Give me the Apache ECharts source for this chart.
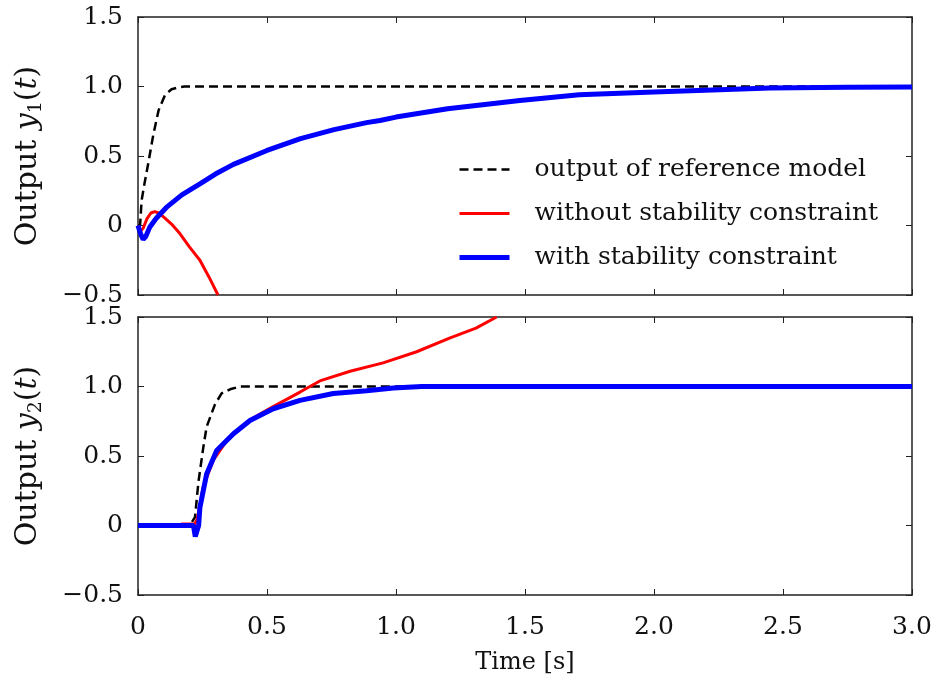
<!DOCTYPE html>
<html>
<head>
<meta charset="utf-8">
<script src="https://cdn.jsdelivr.net/npm/echarts@6/dist/echarts.min.js"></script>
<style>
  html, body { margin: 0; padding: 0; background: #fff; }
  #chart { width: 936px; height: 687px; }
</style>
</head>
<body>
<div id="chart"></div>
<script>
// tick labels
const xTickLabels = ['0', '0.5', '1.0', '1.5', '2.0', '2.5', '3.0']
const yTickLabels = ['\u22120.5', '0', '0.5', '1.0', '1.5']
const seriesNames = ['output of reference model', 'without stability constraint', 'with stability constraint']

// output y1(t)
const tRef1 = [0, 0.008, 0.014, 0.025, 0.04, 0.06, 0.08, 0.105, 0.13, 0.15, 0.18, 0.22, 3.0]
const yRef1 = [0, 0.0, 0.18, 0.3, 0.45, 0.66, 0.83, 0.94, 0.98, 0.99, 1.0, 1.0, 1.0]
const tRed1 = [0, 0.01, 0.02, 0.035, 0.05, 0.065, 0.08, 0.1, 0.13, 0.163, 0.2, 0.24, 0.275, 0.31]
const yRed1 = [0, -0.04, -0.02, 0.05, 0.09, 0.1, 0.09, 0.06, 0.01, -0.06, -0.156, -0.25, -0.37, -0.5]
const tBlue1 = [0, 0.01, 0.02, 0.03, 0.046, 0.07, 0.11, 0.17, 0.24, 0.3, 0.37, 0.5, 0.63, 0.76, 0.886, 0.938, 1.0, 1.2, 1.48, 1.71, 2.0, 2.31, 2.45, 2.75, 3.0]
const yBlue1 = [0, -0.06, -0.1, -0.08, -0.01, 0.05, 0.13, 0.22, 0.3, 0.37, 0.44, 0.54, 0.625, 0.69, 0.74, 0.755, 0.78, 0.84, 0.9, 0.94, 0.96, 0.98, 0.99, 0.995, 0.997]

// output y2(t)
const tRef2 = [0, 0.2, 0.221, 0.234, 0.253, 0.266, 0.298, 0.324, 0.357, 0.395, 3.0]
const yRef2 = [0, 0, 0.06, 0.31, 0.56, 0.71, 0.87, 0.95, 0.98, 1.0, 1.0]
const tRed2 = [0, 0.16, 0.17, 0.22, 0.23, 0.253, 0.292, 0.344, 0.434, 0.524, 0.628, 0.705, 0.822, 0.95, 1.08, 1.21, 1.31, 1.39]
const yRed2 = [0, 0, 0.01, 0.01, 0.05, 0.28, 0.47, 0.61, 0.76, 0.855, 0.96, 1.04, 1.11, 1.17, 1.25, 1.35, 1.42, 1.5]
const tBlue2 = [0, 0.215, 0.222, 0.228, 0.235, 0.24, 0.266, 0.305, 0.37, 0.434, 0.524, 0.628, 0.757, 0.886, 0.99, 1.1, 3.0]
const yBlue2 = [0, 0, -0.08, -0.08, 0.0, 0.13, 0.37, 0.54, 0.66, 0.755, 0.84, 0.9, 0.95, 0.97, 0.99, 1.0, 1.0]

const zip = (ts, ys) => ts.map((t, i) => [t, ys[i]])

const FONT = 'DejaVu Serif'
const AXIS_COLOR = '#222'
const colors = ['#000000', '#ff0000', '#0000ff']
const widths = [2.5, 3, 5]
const dash = [9, 5]

const grids = [
  { left: 138, top: 17, width: 774, height: 278 },
  { left: 138, top: 317, width: 774, height: 278 }
]

const xFmt = v => xTickLabels[Math.round(v / 0.5)]
const yFmt = v => yTickLabels[Math.round((v + 0.5) / 0.5)]

const xAxes = []
const yAxes = []
grids.forEach((g, gi) => {
  // bottom x axis
  xAxes.push({
    type: 'value', gridIndex: gi, min: 0, max: 3, interval: 0.5, position: 'bottom',
    axisLine: { show: true, onZero: false, lineStyle: { color: AXIS_COLOR, width: 1.5 } },
    axisTick: { show: true, inside: true, length: 6, lineStyle: { color: AXIS_COLOR } },
    axisLabel: { show: gi === 1, formatter: xFmt, fontFamily: FONT, fontSize: 25, color: '#111', margin: 20 },
    splitLine: { show: false },
    name: gi === 1 ? 'Time [s]' : '',
    nameLocation: 'middle', nameGap: 56,
    nameTextStyle: { fontFamily: FONT, fontSize: 24, color: '#111' }
  })
  // top mirror
  xAxes.push({
    type: 'value', gridIndex: gi, min: 0, max: 3, interval: 0.5, position: 'top',
    axisLine: { show: true, onZero: false, lineStyle: { color: AXIS_COLOR, width: 1.5 } },
    axisTick: { show: true, inside: true, length: 6, lineStyle: { color: AXIS_COLOR } },
    axisLabel: { show: false }, splitLine: { show: false }
  })
  yAxes.push({
    type: 'value', gridIndex: gi, min: -0.5, max: 1.5, interval: 0.5, position: 'left',
    axisLine: { show: true, onZero: false, lineStyle: { color: AXIS_COLOR, width: 1.5 } },
    axisTick: { show: true, inside: true, length: 6, lineStyle: { color: AXIS_COLOR } },
    axisLabel: { formatter: yFmt, fontFamily: FONT, fontSize: 25, color: '#111', margin: 15 },
    splitLine: { show: false },
    name: '{o|Output }{i|y}{s|' + (gi + 1) + '}{o|(}{i|t}{o|)}',
    nameLocation: 'middle', nameGap: 92, nameRotate: 90,
    nameTextStyle: {
      rich: {
        o: { fontFamily: FONT, fontSize: 30, color: '#111', lineHeight: 36 },
        i: { fontFamily: FONT, fontSize: 30, fontStyle: 'italic', color: '#111', lineHeight: 36 },
        s: { fontFamily: FONT, fontSize: 19, color: '#111', lineHeight: 19, verticalAlign: 'bottom' }
      }
    }
  })
  yAxes.push({
    type: 'value', gridIndex: gi, min: -0.5, max: 1.5, interval: 0.5, position: 'right',
    axisLine: { show: true, onZero: false, lineStyle: { color: AXIS_COLOR, width: 1.5 } },
    axisTick: { show: true, inside: true, length: 6, lineStyle: { color: AXIS_COLOR } },
    axisLabel: { show: false }, splitLine: { show: false }
  })
})

const makeSeries = (idx, gi, data) => ({
  name: seriesNames[idx],
  type: 'line',
  xAxisIndex: gi * 2,
  yAxisIndex: gi * 2,
  data: data,
  showSymbol: false,
  symbol: 'none',
  smooth: false,
  clip: true,
  z: 2 + idx,
  lineStyle: { color: colors[idx], width: widths[idx], type: idx === 0 ? dash : 'solid' },
  itemStyle: { color: colors[idx] }
})

const chart = echarts.init(document.getElementById('chart'))
chart.setOption({
  animation: false,
  backgroundColor: '#fff',
  grid: grids,
  xAxis: xAxes,
  yAxis: yAxes,
  legend: {
    show: true,
    data: seriesNames.map((n, i) => ({
      name: n,
      itemStyle: { opacity: 0 },
      lineStyle: { color: colors[i], width: widths[i], type: i === 0 ? dash : 'solid' }
    })),
    orient: 'vertical',
    left: 452, top: 152,
    itemWidth: 50, itemHeight: 14, itemGap: 19,
    textStyle: { fontFamily: FONT, fontSize: 25, color: '#111', padding: [0, 0, 0, 20] }
  },
  series: [
    makeSeries(0, 0, zip(tRef1, yRef1)),
    makeSeries(1, 0, zip(tRed1, yRed1)),
    makeSeries(2, 0, zip(tBlue1, yBlue1)),
    makeSeries(0, 1, zip(tRef2, yRef2)),
    makeSeries(1, 1, zip(tRed2, yRed2)),
    makeSeries(2, 1, zip(tBlue2, yBlue2))
  ]
})
</script>
</body>
</html>
